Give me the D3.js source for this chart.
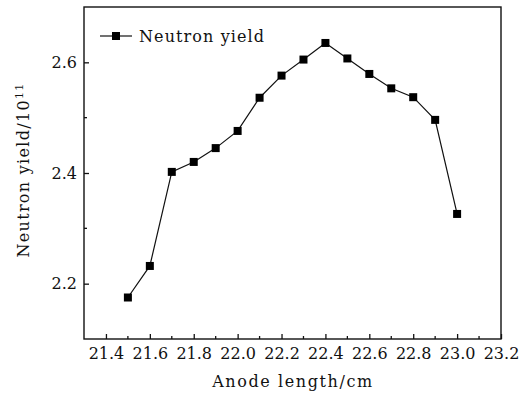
<!DOCTYPE html>
<html>
<head>
<meta charset="utf-8">
<script src="https://cdn.jsdelivr.net/npm/d3@7"></script>
<style>
  body { margin: 0; background: #fff; }
  text { font-family: "DejaVu Serif", serif; fill: #111; }
</style>
</head>
<body>
<div id="chart"></div>
<script>
// Data
const anodeLength = [21.5, 21.6, 21.7, 21.8, 21.9, 22.0, 22.1, 22.2, 22.3, 22.4, 22.5, 22.6, 22.7, 22.8, 22.9, 23.0];
const neutronYield = [2.175, 2.232, 2.402, 2.420, 2.445, 2.476, 2.536, 2.576, 2.605, 2.635, 2.607, 2.579, 2.553, 2.537, 2.496, 2.326];
const xTicks = [21.4, 21.6, 21.8, 22.0, 22.2, 22.4, 22.6, 22.8, 23.0, 23.2];
const xMinor = [21.5, 21.7, 21.9, 22.1, 22.3, 22.5, 22.7, 22.9, 23.1];
const yTicks = [2.2, 2.4, 2.6];
const yMinor = [2.3, 2.5];

// Layout
const W = 528, H = 394;
const L = 84, R = 501, T = 7, B = 339;
const FS = 16;

const svg = d3.select('#chart').append('svg')
  .attr('width', W).attr('height', H);

const x = d3.scaleLinear().domain([21.3, 23.2]).range([L, R]);
const y = d3.scaleLinear().domain([2.1, 2.7]).range([B, T]);

// Frame
svg.append('rect')
  .attr('x', L).attr('y', T)
  .attr('width', R - L).attr('height', B - T)
  .attr('fill', 'none')
  .attr('stroke', '#111')
  .attr('stroke-width', 1.4);

// Bottom axis, ticks pointing inward
const xAxis = svg.append('g')
  .attr('transform', `translate(0,${B})`)
  .call(d3.axisBottom(x).tickValues(xTicks).tickFormat(d3.format('.1f')).tickSizeInner(-5).tickSizeOuter(0).tickPadding(9));
xAxis.select('.domain').remove();
xAxis.selectAll('line').attr('stroke', '#111').attr('stroke-width', 1.3);
xAxis.selectAll('text').attr('font-size', FS).attr('font-family', '"DejaVu Serif", serif').attr('fill', '#111');

svg.append('g').selectAll('line').data(xMinor).enter().append('line')
  .attr('x1', d => x(d)).attr('x2', d => x(d))
  .attr('y1', B).attr('y2', B - 3)
  .attr('stroke', '#111').attr('stroke-width', 1.3);

// Left axis, ticks pointing inward
const yAxis = svg.append('g')
  .attr('transform', `translate(${L},0)`)
  .call(d3.axisLeft(y).tickValues(yTicks).tickFormat(d3.format('.1f')).tickSizeInner(-5).tickSizeOuter(0).tickPadding(7));
yAxis.select('.domain').remove();
yAxis.selectAll('line').attr('stroke', '#111').attr('stroke-width', 1.3);
yAxis.selectAll('text').attr('font-size', FS).attr('font-family', '"DejaVu Serif", serif').attr('fill', '#111');

svg.append('g').selectAll('line').data(yMinor).enter().append('line')
  .attr('x1', L).attr('x2', L + 3)
  .attr('y1', d => y(d)).attr('y2', d => y(d))
  .attr('stroke', '#111').attr('stroke-width', 1.3);

// Series
const pts = anodeLength.map((v, i) => ({ x: v, y: neutronYield[i] }));

svg.append('path')
  .datum(pts)
  .attr('fill', 'none')
  .attr('stroke', '#111')
  .attr('stroke-width', 1.2)
  .attr('d', d3.line().x(d => x(d.x)).y(d => y(d.y)));

const S = 8;
svg.append('g').selectAll('rect').data(pts).enter().append('rect')
  .attr('x', d => x(d.x) - S / 2)
  .attr('y', d => y(d.y) - S / 2)
  .attr('width', S).attr('height', S)
  .attr('fill', '#000');

// Legend
const lg = svg.append('g').attr('transform', 'translate(100,36)');
lg.append('line').attr('x1', 0).attr('x2', 32).attr('y1', 0).attr('y2', 0)
  .attr('stroke', '#111').attr('stroke-width', 1.2);
lg.append('rect').attr('x', 16 - S / 2).attr('y', -S / 2).attr('width', S).attr('height', S).attr('fill', '#000');
lg.append('text').attr('x', 39).attr('y', 5.5).attr('font-size', FS)
  .attr('letter-spacing', 1.1).text('Neutron yield');

// Axis titles
svg.append('text')
  .attr('x', 293).attr('y', 387)
  .attr('text-anchor', 'middle')
  .attr('font-size', FS)
  .attr('letter-spacing', 1.6)
  .text('Anode length/cm');

const yt = svg.append('text')
  .attr('transform', 'translate(29,170) rotate(-90)')
  .attr('text-anchor', 'middle')
  .attr('font-size', FS)
  .attr('letter-spacing', 1.3);
yt.append('tspan').text('Neutron yield/10');
yt.append('tspan').attr('dy', -6).attr('font-size', 11).text('11');
</script>
</body>
</html>
